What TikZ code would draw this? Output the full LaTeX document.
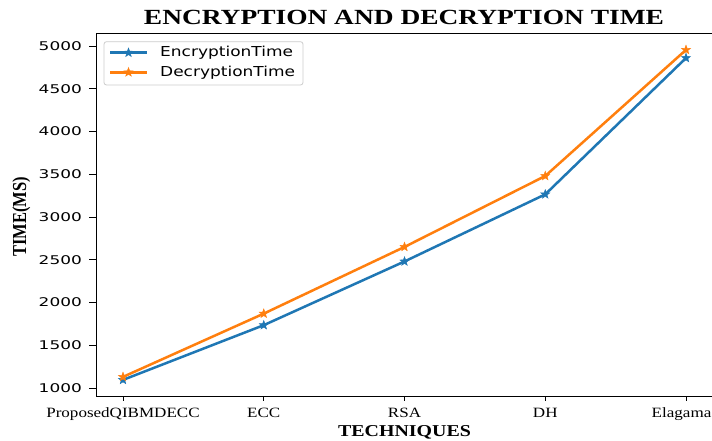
\documentclass[tikz,border=0pt]{standalone}
\usepackage{graphicx}
\usepackage{fontspec}
\setmainfont{Liberation Serif}
\newfontfamily\djv{DejaVu Sans}
\usetikzlibrary{shapes.geometric,calc}
\definecolor{mplblue}{HTML}{1F77B4}
\definecolor{mplorange}{HTML}{FF7F0E}
\definecolor{legedge}{HTML}{CCCCCC}
\begin{document}
\begin{tikzpicture}[x=1pt,y=1pt,
  starmark/.style={star, star points=5, star point ratio=2.4, minimum size=9.5pt, inner sep=0pt, fill=#1, draw=#1, line width=0.4pt},
  serie/.style={line width=2.5pt, draw=#1, line join=round},
  ytl/.style={anchor=east, inner sep=0pt, font=\djv\fontsize{12}{12}\selectfont},
  xtl/.style={anchor=base, inner sep=0pt, font=\fontsize{14.2}{14.2}\selectfont},
  legtext/.style={anchor=west, inner sep=0pt, font=\djv\fontsize{13.7}{13.7}\selectfont},
  tickline/.style={line width=0.9pt, black},
  frameline/.style={line width=1pt, black}
]
\useasboundingbox (0,0) rectangle (712,441);
\clip (0,0) rectangle (712,441);
\fill[white] (0,0) rectangle (712,441);

% title
\node[anchor=base, inner sep=0pt, font=\bfseries\fontsize{21.6}{21.6}\selectfont] (title) at (404,416) {\scalebox{1.27}[1]{ENCRYPTION AND DECRYPTION TIME}};

% frame
\draw[frameline] (714.15,407.5) -- (96,407.5) -- (96,44.5) -- (714.15,44.5);

\begin{scope}[x=140.75pt, y=0.0855pt, shift={(123pt,-32.5pt)}]
  \foreach \v in {1000,1500,...,5000} {
    \coordinate (yt\v) at (-0.1918,\v);
  }
  \foreach \i in {0,...,4} {
    \coordinate (xt\i) at (\i,901);
  }
  \coordinate (ep0) at (0,1095);
  \coordinate (ep1) at (1,1735);
  \coordinate (ep2) at (2,2480);
  \coordinate (ep3) at (3,3265);
  \coordinate (ep4) at (4,4860);
  \coordinate (dp0) at (0,1130);
  \coordinate (dp1) at (1,1870);
  \coordinate (dp2) at (2,2650);
  \coordinate (dp3) at (3,3480);
  \coordinate (dp4) at (4,4955);
\end{scope}

\foreach \v in {1000,1500,...,5000} {
  \draw[tickline] (yt\v) -- ++(-7,0);
  \node[ytl] (ylab\v) at ([xshift=-14pt]yt\v) {\scalebox{1.41}[1]{\v}};
}
\foreach \i/\t in {0/ProposedQIBMDECC,1/ECC,2/RSA,3/DH} {
  \draw[tickline] (xt\i) -- ++(0,-5);
  \node[xtl] (xlab\i) at ([yshift=-21.2pt]xt\i) {\scalebox{1.2}[1]{\t}};
}
\draw[tickline] (xt4) -- ++(0,-5);
\node[xtl, anchor=base east] (xlab4) at ([yshift=-21.2pt]xt4 -| 711.5,0) {\scalebox{1.2}[1]{Elagama}};

% axis labels
\node[anchor=base, inner sep=0pt, font=\bfseries\fontsize{16.6}{16.6}\selectfont] (xlabel) at (404.5,4) {\scalebox{1.2}[1]{TECHNIQUES}};
\node[rotate=90, inner sep=0pt, font=\bfseries\fontsize{16.5}{16.5}\selectfont] (ylabel) at (21.3,224.3) {\scalebox{1}[1.2]{TIME(MS)}};

% series: encryption
\draw[serie=mplblue] (ep0) -- (ep1) -- (ep2) -- (ep3) -- (ep4);
\foreach \i in {0,...,4} { \node[starmark=mplblue] (e\i) at (ep\i) {}; }
% series: decryption
\draw[serie=mplorange] (dp0) -- (dp1) -- (dp2) -- (dp3) -- (dp4);
\foreach \i in {0,...,4} { \node[starmark=mplorange] (d\i) at (dp\i) {}; }

% legend
\draw[legedge, fill=white, fill opacity=0.8, line width=0.8pt, rounded corners=2.5pt] (104,356) rectangle (303,399.3);
\coordinate (la1) at (110,388.3);
\coordinate (lb1) at (147,388.3);
\coordinate (la2) at (110,368.7);
\coordinate (lb2) at (147,368.7);
\draw[serie=mplblue] (la1) -- (lb1);
\node[starmark=mplblue] (lm1) at ($(la1)!0.5!(lb1)$) {};
\draw[serie=mplorange] (la2) -- (lb2);
\node[starmark=mplorange] (lm2) at ($(la2)!0.5!(lb2)$) {};
\node[legtext] (lt1) at (160,388.3) {\scalebox{1.24}[1]{EncryptionTime}};
\node[legtext] (lt2) at (160,368.7) {\scalebox{1.24}[1]{DecryptionTime}};
\end{tikzpicture}
\end{document}
